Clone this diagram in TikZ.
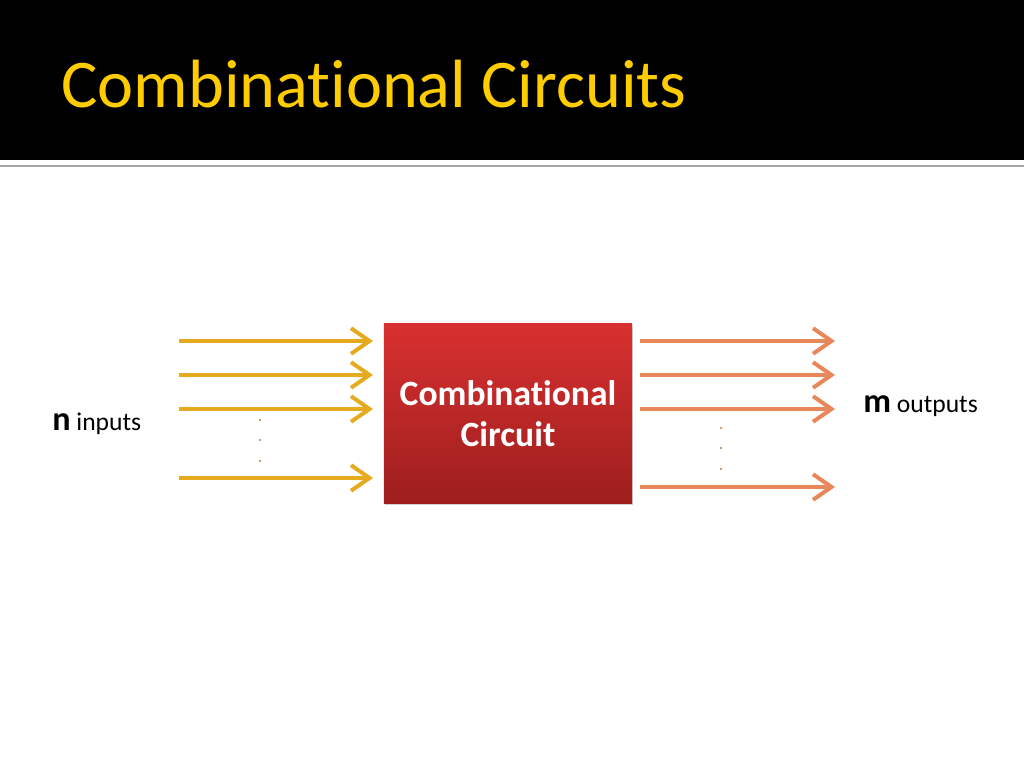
\documentclass[tikz,border=0pt]{standalone}
\usepackage{fontspec}
\setmainfont{Carlito}[Ligatures=NoCommon]
\usepackage{tikz}
\usetikzlibrary{arrows.meta,shadows}
\definecolor{titlegold}{RGB}{255,204,0}
\definecolor{inyellow}{RGB}{230,170,30}
\definecolor{outorange}{RGB}{232,135,90}
\definecolor{boxtop}{RGB}{216,48,48}
\definecolor{boxbot}{RGB}{158,30,30}
\definecolor{dotbrown}{RGB}{190,120,60}
\tikzset{
	inarrow/.style={line width=2.8pt, color=inyellow, -{Straight Barb[length=13pt, width=18pt]}},
	outarrow/.style={line width=2.8pt, color=outorange, -{Straight Barb[length=13pt, width=18pt]}},
	cbox/.style={top color=boxtop, bottom color=boxbot, draw=none, drop shadow={opacity=0.35, shadow xshift=1pt, shadow yshift=-1.5pt},
		minimum width=174.4pt, minimum height=125.9pt, text=white, align=center, font=\bfseries\fontsize{25}{29}\selectfont},
	ldot/.style={fill=dotbrown, draw=none}
}

\begin{document}
\begin{tikzpicture}[x=0.703125pt, y=-0.703125pt]
		%%%%% START %%%%%
		
		\useasboundingbox[fill=white] (0, 0) rectangle (1024, 768);
		
		\fill[black] (0, 0) rectangle (1024, 160);
		\draw[line width=1.4pt, color=black!35] (0, 166) -- (1024, 166);
		\node[anchor=base west, text=titlegold, font=\fontsize{48}{54}\selectfont, inner sep=0pt] (title) at (61, 108) {Combinational Circuits};
		
		\node[cbox] (circ) at (508, 413.5) {Combinational\\[0pt]Circuit};
		
		\coordinate (in1) at (179, 341);   \coordinate (in1e) at (373, 341);
		\coordinate (in2) at (179, 375);   \coordinate (in2e) at (373, 375);
		\coordinate (in3) at (179, 409);   \coordinate (in3e) at (373, 409);
		\coordinate (inn) at (179, 478);   \coordinate (inne) at (373, 478);
		\draw[inarrow] (in1) -- (in1e);
		\draw[inarrow] (in2) -- (in2e);
		\draw[inarrow] (in3) -- (in3e);
		\draw[inarrow] (inn) -- (inne);
		
		\coordinate (out1) at (640, 341);   \coordinate (out1e) at (835, 341);
		\coordinate (out2) at (640, 375);   \coordinate (out2e) at (835, 375);
		\coordinate (out3) at (640, 409);   \coordinate (out3e) at (835, 409);
		\coordinate (outm) at (640, 487);   \coordinate (outme) at (835, 487);
		\draw[outarrow] (out1) -- (out1e);
		\draw[outarrow] (out2) -- (out2e);
		\draw[outarrow] (out3) -- (out3e);
		\draw[outarrow] (outm) -- (outme);
		
		\fill[ldot] (260, 420) circle (1.2);
		\fill[ldot] (260, 440) circle (1.2);
		\fill[ldot] (260, 461) circle (1.2);
		\fill[ldot] (721, 428) circle (1.2);
		\fill[ldot] (721, 448) circle (1.2);
		\fill[ldot] (721, 469) circle (1.2);
		
		\node[anchor=base west, inner sep=0pt] (nin) at (52, 430) {{\bfseries\fontsize{24}{28}\selectfont n}{\fontsize{18}{21}\selectfont\ inputs}};
		\node[anchor=base west, inner sep=0pt] (mout) at (863, 412) {{\bfseries\fontsize{24}{28}\selectfont m}{\fontsize{18}{21}\selectfont\ outputs}};
		
		%%%%% END %%%%%
	\end{tikzpicture}
\end{document}
